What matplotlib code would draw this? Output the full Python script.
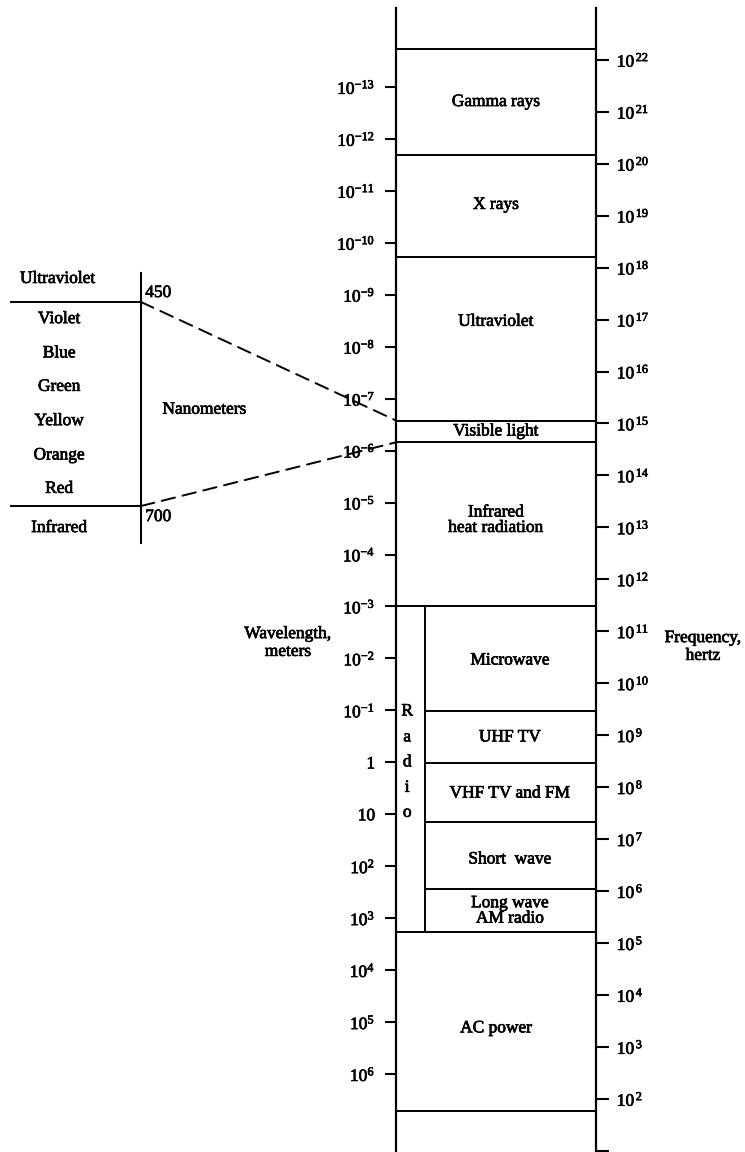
import numpy as np
import matplotlib
matplotlib.use("Agg")
import matplotlib.pyplot as plt
import matplotlib.patheffects as pe
from matplotlib.patches import ConnectionPatch
from matplotlib.ticker import NullLocator

# wavelength axis (log10 of meters)
wl_exp = [-13, -12, -11, -10, -9, -8, -7, -6, -5, -4, -3, -2, -1, 0, 1, 2, 3, 4, 5, 6]
wl_labels = ['$10^{-13}$', '$10^{-12}$', '$10^{-11}$', '$10^{-10}$', '$10^{-9}$',
             '$10^{-8}$', '$10^{-7}$', '$10^{-6}$', '$10^{-5}$', '$10^{-4}$',
             '$10^{-3}$', '$10^{-2}$', '$10^{-1}$', '1', '10', '$10^{2}$',
             '$10^{3}$', '$10^{4}$', '$10^{5}$', '$10^{6}$']

# frequency axis (log10 of hertz)
freq_exp = [1, 2, 3, 4, 5, 6, 7, 8, 9, 10, 11, 12, 13, 14, 15, 16, 17, 18, 19, 20, 21, 22]
freq_labels = ['', '$10^{\\,2}$', '$10^{\\,3}$', '$10^{\\,4}$', '$10^{\\,5}$', '$10^{\\,6}$',
               '$10^{\\,7}$', '$10^{\\,8}$', '$10^{\\,9}$', '$10^{\\,10}$', '$10^{\\,11}$',
               '$10^{\\,12}$', '$10^{\\,13}$', '$10^{\\,14}$', '$10^{\\,15}$', '$10^{\\,16}$',
               '$10^{\\,17}$', '$10^{\\,18}$', '$10^{\\,19}$', '$10^{\\,20}$', '$10^{\\,21}$',
               '$10^{\\,22}$']

# band boundaries, log10 wavelength in meters
full_edges = [-13.73, -11.70, -9.73, -6.58, -6.16, -3.0, 3.26, 6.71]
radio_edges = [-0.98, 0.01, 1.15, 2.44]

band_names = ['Gamma rays', 'X rays', 'Ultraviolet', 'Visible light',
              'Infrared\nheat radiation', 'AC power']
band_label_pos = [-12.71, -10.73, -8.48, -6.37, -4.66, 5.12]

radio_names = ['Microwave', 'UHF TV', 'VHF TV and FM', 'Short  wave', 'Long wave\nAM radio']
radio_label_pos = [-1.96, -0.48, 0.60, 1.87, 2.86]

radio_letters = ['R', 'a', 'd', 'i', 'o']
radio_letter_pos = [-0.98, -0.48, 0.0, 0.49, 0.97]

# visible light inset, nanometers
visible_names = ['Violet', 'Blue', 'Green', 'Yellow', 'Orange', 'Red']
visible_pos_nm = [471, 513, 554, 596, 638, 679]
visible_edges_nm = [450, 700]

C_LIGHT = 3e8
W, H = 745, 1152
FS = 12.5
INK = [pe.withStroke(linewidth=0.5, foreground='black')]


def setup_fonts():
    plt.rcParams['font.family'] = ['Liberation Serif', 'DejaVu Serif']
    plt.rcParams['mathtext.fontset'] = 'custom'
    plt.rcParams['mathtext.rm'] = 'Liberation Serif'
    plt.rcParams['mathtext.it'] = 'Liberation Serif:italic'
    plt.rcParams['mathtext.bf'] = 'Liberation Serif:bold'


def label(target, x, y, s, **kw):
    kw.setdefault('ha', 'center')
    kw.setdefault('va', 'center')
    kw.setdefault('fontsize', FS)
    return target.text(x, y, s, path_effects=INK, **kw)


def main():
    setup_fonts()
    fig = plt.figure(figsize=(W / 100, H / 100), dpi=100)

    # main spectrum column
    ax = fig.add_axes([396 / W, 0, 200 / W, (H - 8) / H])
    ax.set_yscale('log')
    lo, hi = 10 ** 7.5, 10 ** -14.52
    ax.set_ylim(lo, hi)
    ax.set_xlim(0, 1)
    ax.set_xticks([])
    ax.set_yticks([10.0 ** e for e in wl_exp])
    ax.set_yticklabels(wl_labels, fontsize=FS)
    ax.yaxis.set_minor_locator(NullLocator())
    ax.tick_params(axis='y', direction='out', length=8, width=1.5, pad=7)
    for s in ['top', 'bottom', 'right']:
        ax.spines[s].set_visible(False)
    ax.spines['left'].set_linewidth(1.6)

    ax2 = ax.twinx()
    ax2.set_yscale('log')
    ax2.set_ylim(C_LIGHT / lo, C_LIGHT / hi)
    ax2.set_yticks([10.0 ** e for e in freq_exp])
    ax2.set_yticklabels(freq_labels, fontsize=FS)
    ax2.yaxis.set_minor_locator(NullLocator())
    ax2.tick_params(axis='y', direction='out', length=9, width=1.5, pad=6)
    for s in ['top', 'bottom', 'left']:
        ax2.spines[s].set_visible(False)
    ax2.spines['right'].set_linewidth(1.6)

    for t in ax.get_yticklabels() + ax2.get_yticklabels():
        t.set_path_effects(INK)

    ax.hlines([10.0 ** e for e in full_edges], 0, 1, colors='black', linewidth=1.4)
    ax.hlines([10.0 ** e for e in radio_edges], 0.145, 1, colors='black', linewidth=1.4)
    ax.vlines(0.145, 10.0 ** full_edges[5], 10.0 ** full_edges[6], colors='black', linewidth=1.4)

    for name, pos in zip(band_names, band_label_pos):
        label(ax, 0.5, 10.0 ** pos, name, linespacing=0.95)
    for name, pos in zip(radio_names, radio_label_pos):
        label(ax, 0.57, 10.0 ** pos, name, linespacing=0.95)
    for letter, pos in zip(radio_letters, radio_letter_pos):
        label(ax, 0.056, 10.0 ** pos, letter)

    label(fig, 288 / W, 1 - 643 / H, 'Wavelength,\nmeters', linespacing=1.15)
    label(fig, 703 / W, 1 - 647 / H, 'Frequency,\nhertz', linespacing=1.15)

    # visible light inset
    axi = fig.add_axes([0, 1 - 543 / H, 141 / W, 270 / H])
    axi.set_xlim(0, 1)
    axi.set_ylim(745.3, 414.5)
    axi.set_xticks([])
    axi.set_yticks([])
    axi.patch.set_alpha(0)
    for s in ['top', 'bottom', 'left']:
        axi.spines[s].set_visible(False)
    axi.spines['right'].set_linewidth(1.5)
    axi.hlines(visible_edges_nm, 0.071, 1, colors='black', linewidth=1.4)

    for name, pos in zip(visible_names, visible_pos_nm):
        label(axi, 0.42, pos, name)
    label(axi, 0.41, 421.8, 'Ultraviolet')
    label(axi, 0.42, 727, 'Infrared')
    label(axi, 1.03, 439, str(visible_edges_nm[0]), ha='left')
    label(axi, 1.03, 713.5, str(visible_edges_nm[1]), ha='left')
    label(axi, 1.45, 582, 'Nanometers')

    for nm, edge in zip(visible_edges_nm, [full_edges[3], full_edges[4]]):
        con = ConnectionPatch(xyA=(1, nm), coordsA=axi.transData,
                              xyB=(0, 10.0 ** edge), coordsB=ax.transData,
                              linestyle=(0, (7, 4)), linewidth=1.4, color='black')
        fig.add_artist(con)

    fig.savefig('out.png', dpi=100, facecolor='white')
    plt.close(fig)


if __name__ == "__main__":
    main()
